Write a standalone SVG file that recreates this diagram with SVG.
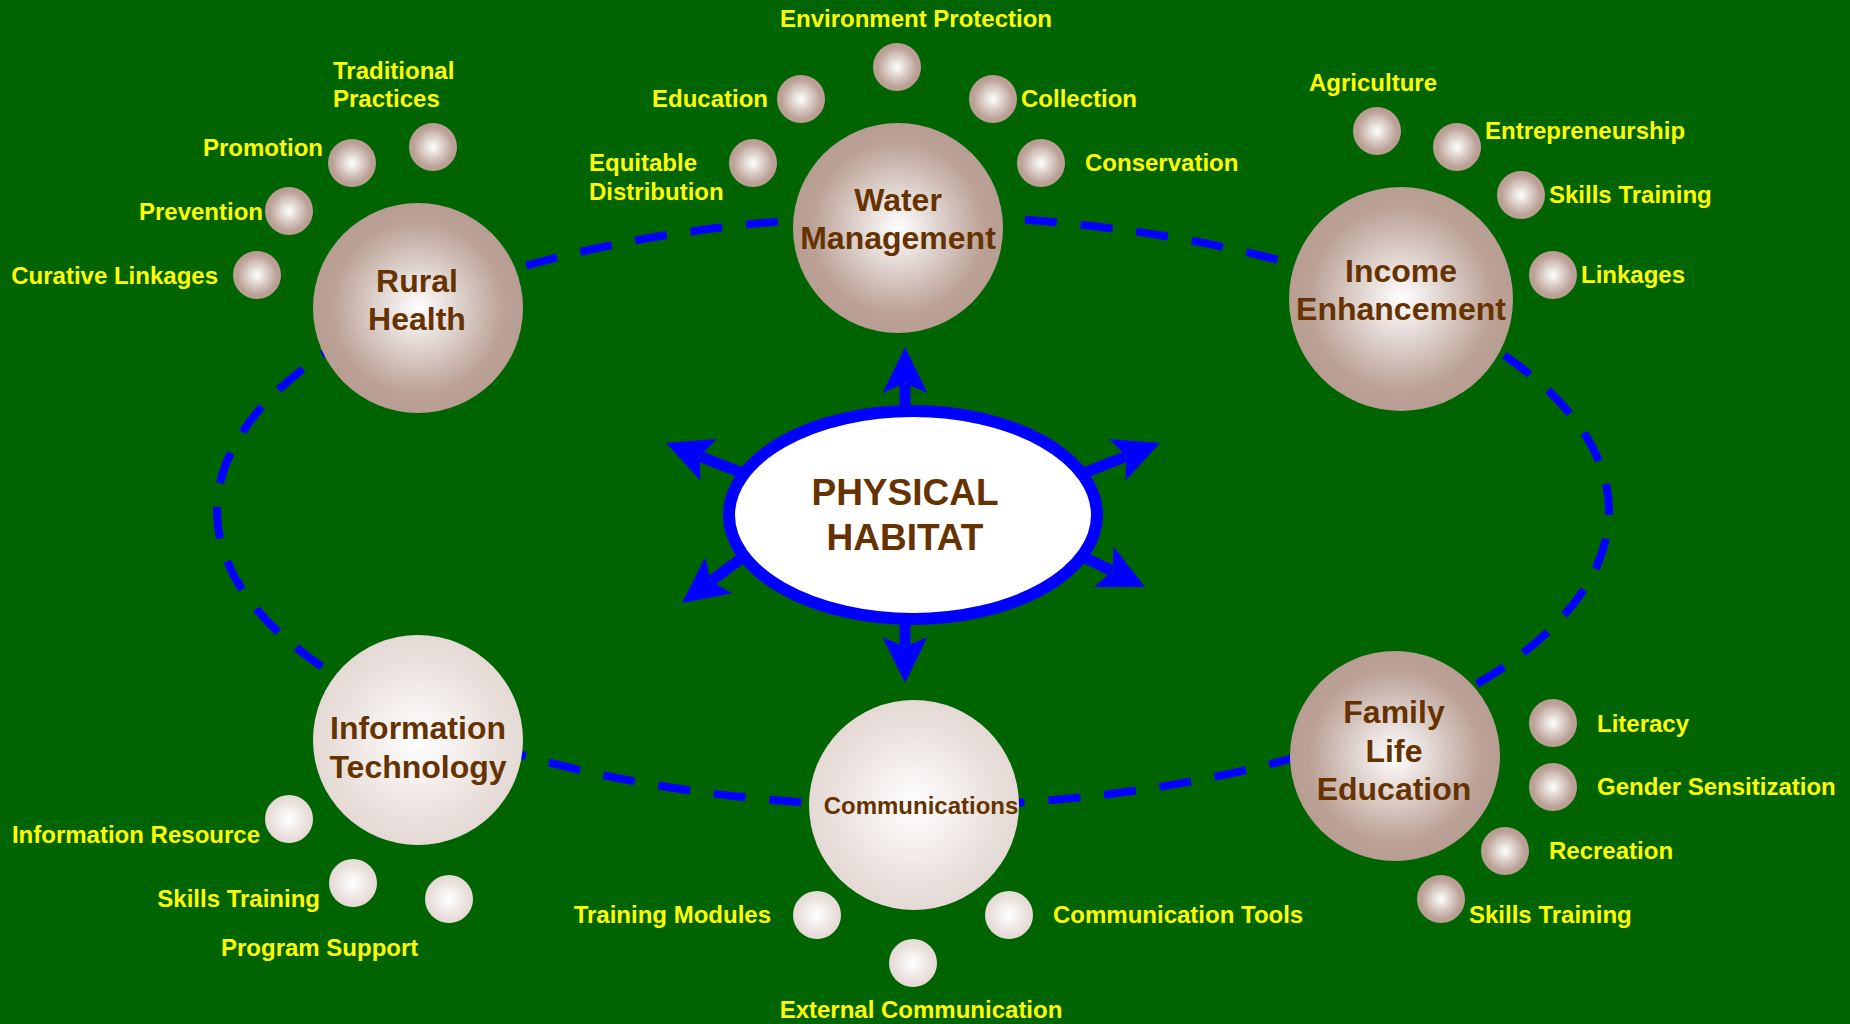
<svg xmlns="http://www.w3.org/2000/svg" width="1850" height="1024" viewBox="0 0 1850 1024">
  <defs>
    <radialGradient id="ballDark" cx="50%" cy="50%" r="50%">
      <stop offset="0" stop-color="#ffffff"/>
      <stop offset="0.82" stop-color="#bba196"/>
      <stop offset="1" stop-color="#b89d92"/>
    </radialGradient>
    <radialGradient id="ballLight" cx="50%" cy="50%" r="50%">
      <stop offset="0" stop-color="#ffffff"/>
      <stop offset="0.85" stop-color="#e7ddd9"/>
      <stop offset="1" stop-color="#e4d9d5"/>
    </radialGradient>
    <polygon id="head" points="0,0 -46,-22.5 -36,0 -46,22.5"/>
  </defs>
  <style>
    .bg { fill: #006400; }
    .dark { fill: url(#ballDark); }
    .light { fill: url(#ballLight); }
    .label { font-family: "Liberation Sans", Arial, sans-serif; font-weight: bold; font-size: 24px; fill: #ffff00; }
    .title { font-family: "Liberation Sans", Arial, sans-serif; font-weight: bold; font-size: 32px; fill: #663300; text-anchor: middle; }
    .small { font-size: 24px; }
    .center { font-family: "Liberation Sans", Arial, sans-serif; font-weight: bold; font-size: 37px; fill: #663300; text-anchor: middle; }
    .end { text-anchor: end; }
    .mid { text-anchor: middle; }
    .ring { fill: none; stroke: #0000ff; stroke-width: 8; stroke-dasharray: 32 23.9; stroke-dashoffset: 28; }
    .shaft { stroke: #0000ff; stroke-width: 11; }
    .head { fill: #0000ff; }
  </style>

  <rect class="bg" x="0" y="0" width="1850" height="1024"/>

  <!-- connectors: dashed ring linking the six areas, and arrows out of the hub -->
  <g id="connectors">
    <ellipse class="ring" cx="913" cy="511" rx="696" ry="295"/>
    <g transform="translate(905,347) rotate(-90)"><line class="shaft" x1="-73" y1="0" x2="-37" y2="0"/><use href="#head" class="head"/></g>
    <g transform="translate(905,683) rotate(90)"><line class="shaft" x1="-73" y1="0" x2="-37" y2="0"/><use href="#head" class="head"/></g>
    <g transform="translate(666,443) rotate(201.5)"><line class="shaft" x1="-90" y1="0" x2="-37" y2="0"/><use href="#head" class="head"/></g>
    <g transform="translate(1160,443) rotate(-21.5)"><line class="shaft" x1="-90" y1="0" x2="-37" y2="0"/><use href="#head" class="head"/></g>
    <g transform="translate(682,603) rotate(143)"><line class="shaft" x1="-85" y1="0" x2="-37" y2="0"/><use href="#head" class="head"/></g>
    <g transform="translate(1145,587) rotate(26)"><line class="shaft" x1="-80" y1="0" x2="-37" y2="0"/><use href="#head" class="head"/></g>
  </g>

  <!-- hub -->
  <g id="physical-habitat">
    <ellipse cx="913" cy="515" rx="184" ry="104" fill="#ffffff" stroke="#0000ff" stroke-width="12"/>
    <text class="center" x="905" y="505">PHYSICAL</text>
    <text class="center" x="905" y="550">HABITAT</text>
  </g>

  <!-- Rural Health -->
  <g id="rural-health">
    <circle class="dark" cx="418" cy="308" r="105"/>
    <text class="title" x="417" y="292">Rural</text>
    <text class="title" x="417" y="330">Health</text>
    <circle class="dark" cx="433" cy="147" r="24"/>
    <circle class="dark" cx="352" cy="163" r="24"/>
    <circle class="dark" cx="289" cy="211" r="24"/>
    <circle class="dark" cx="257" cy="275" r="24"/>
    <text class="label" x="333" y="79">Traditional</text>
    <text class="label" x="333" y="107">Practices</text>
    <text class="label end" x="323" y="156">Promotion</text>
    <text class="label end" x="263" y="220">Prevention</text>
    <text class="label end" x="218" y="284">Curative Linkages</text>
  </g>

  <!-- Water Management -->
  <g id="water-management">
    <circle class="dark" cx="898" cy="228" r="105"/>
    <text class="title" x="898" y="211">Water</text>
    <text class="title" x="898" y="249">Management</text>
    <circle class="dark" cx="897" cy="67" r="24"/>
    <circle class="dark" cx="801" cy="99" r="24"/>
    <circle class="dark" cx="993" cy="99" r="24"/>
    <circle class="dark" cx="753" cy="163" r="24"/>
    <circle class="dark" cx="1041" cy="163" r="24"/>
    <text class="label mid" x="916" y="27">Environment Protection</text>
    <text class="label end" x="768" y="107">Education</text>
    <text class="label" x="1021" y="107">Collection</text>
    <text class="label" x="589" y="171">Equitable</text>
    <text class="label" x="589" y="200">Distribution</text>
    <text class="label" x="1085" y="171">Conservation</text>
  </g>

  <!-- Income Enhancement -->
  <g id="income-enhancement">
    <circle class="dark" cx="1401" cy="299" r="112"/>
    <text class="title" x="1401" y="282">Income</text>
    <text class="title" x="1401" y="320">Enhancement</text>
    <circle class="dark" cx="1377" cy="131" r="24"/>
    <circle class="dark" cx="1457" cy="147" r="24"/>
    <circle class="dark" cx="1521" cy="195" r="24"/>
    <circle class="dark" cx="1553" cy="275" r="24"/>
    <text class="label" x="1309" y="91">Agriculture</text>
    <text class="label" x="1485" y="139">Entrepreneurship</text>
    <text class="label" x="1549" y="203">Skills Training</text>
    <text class="label" x="1581" y="283">Linkages</text>
  </g>

  <!-- Information Technology -->
  <g id="information-technology">
    <circle class="light" cx="418" cy="740" r="105"/>
    <text class="title" x="418" y="739">Information</text>
    <text class="title" x="418" y="778">Technology</text>
    <circle class="light" cx="289" cy="819" r="24"/>
    <circle class="light" cx="353" cy="883" r="24"/>
    <circle class="light" cx="449" cy="899" r="24"/>
    <text class="label end" x="260" y="843">Information Resource</text>
    <text class="label end" x="320" y="907">Skills Training</text>
    <text class="label" x="221" y="956">Program Support</text>
  </g>

  <!-- Communications -->
  <g id="communications">
    <circle class="light" cx="914" cy="805" r="105"/>
    <text class="title small" x="921" y="814">Communications</text>
    <circle class="light" cx="817" cy="915" r="24"/>
    <circle class="light" cx="1009" cy="915" r="24"/>
    <circle class="light" cx="913" cy="963" r="24"/>
    <text class="label end" x="771" y="923">Training Modules</text>
    <text class="label" x="1053" y="923">Communication Tools</text>
    <text class="label mid" x="921" y="1018">External Communication</text>
  </g>

  <!-- Family Life Education -->
  <g id="family-life-education">
    <circle class="dark" cx="1395" cy="756" r="105"/>
    <text class="title" x="1394" y="723">Family</text>
    <text class="title" x="1394" y="762">Life</text>
    <text class="title" x="1394" y="800">Education</text>
    <circle class="dark" cx="1553" cy="723" r="24"/>
    <circle class="dark" cx="1553" cy="787" r="24"/>
    <circle class="dark" cx="1505" cy="851" r="24"/>
    <circle class="dark" cx="1441" cy="899" r="24"/>
    <text class="label" x="1597" y="732">Literacy</text>
    <text class="label" x="1597" y="795">Gender Sensitization</text>
    <text class="label" x="1549" y="859">Recreation</text>
    <text class="label" x="1469" y="923">Skills Training</text>
  </g>
</svg>
